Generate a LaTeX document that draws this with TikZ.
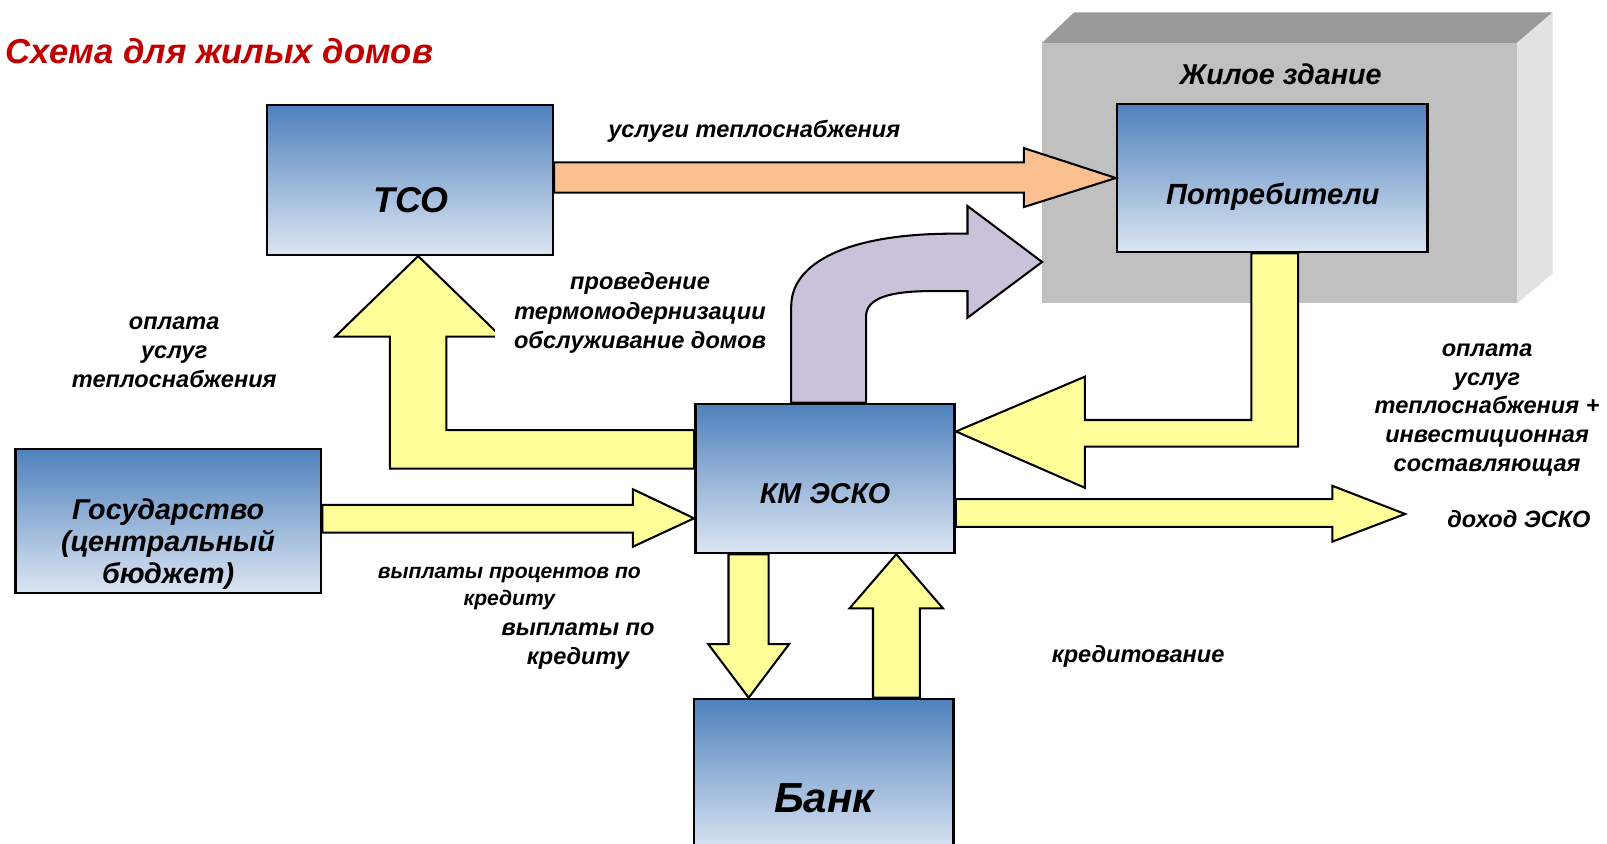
\documentclass[tikz,border=0pt]{standalone}
\usepackage{fontspec}
\setmainfont{Liberation Sans}

\definecolor{boxtop}{HTML}{4F81BD}
\definecolor{boxbottom}{HTML}{DCE6F2}
\definecolor{arrowyellow}{HTML}{FFFF99}
\definecolor{arroworange}{HTML}{FAC090}
\definecolor{arrowlilac}{HTML}{CCC1DA}
\definecolor{titlered}{HTML}{C00000}
\definecolor{housefront}{HTML}{C0C0C0}
\definecolor{housetop}{HTML}{9A9A9A}
\definecolor{houseside}{HTML}{E2E2E2}

\tikzset{
    box/.style={draw=black, line width=2.5pt, top color=boxtop, bottom color=boxbottom, inner sep=0pt},
    boxtext/.style={font=\bfseries\itshape\fontsize{#1}{#1}\selectfont, inner sep=0pt, align=center},
    lbl/.style 2 args={font=\bfseries\itshape\fontsize{#1}{#2}\selectfont, inner sep=0pt, align=center},
    yarrow/.style={fill=arrowyellow, draw=black, line width=2pt, line join=miter},
}

\begin{document}
\begin{tikzpicture}[x=1pt, y=-1pt]
    \clip (0,0) rectangle (1568,823);

    \node[anchor=base west, inner sep=0pt, text=titlered, font=\bfseries\itshape\fontsize{33.8}{40}\selectfont] (title) at (5.6,61.8) {Схема для жилых домов};

    % building
    \node[fill=housefront, minimum width=463pt, minimum height=254pt, inner sep=0pt] (house) at (1248.5,169) {};
    \fill[housetop] (house.north west) -- (1048,12) -- (1515,12) -- (house.north east) -- cycle;
    \fill[houseside] (house.north east) -- (1515,12) -- (1515,267) -- (house.south east) -- cycle;
    \node[lbl={28}{34}] (housename) at (1249.6,72.5) {Жилое здание};

    % boxes
    \node[box, minimum width=279pt, minimum height=146pt] (tso) at (400,175.6) {};
    \node[boxtext=35] (tsoname) at (401,195) {ТСО};
    \node[box, minimum width=303pt, minimum height=144.5pt] (pot) at (1241.5,173.7) {};
    \node[boxtext=28.5] (potname) at (1242,192) {Потребители};
    \node[box, minimum width=253pt, minimum height=145.5pt] (km) at (805,466.8) {};
    \node[boxtext=28] (kmname) at (805,482) {КМ ЭСКО};
    \node[box, minimum width=298pt, minimum height=140.6pt] (gos) at (164.3,508.3) {};
    \node[boxtext=28, font=\bfseries\itshape\fontsize{28}{31.5}\selectfont] (gosname) at (164,531) {Государство\\(центральный\\бюджет)};
    \node[box, minimum width=253pt, minimum height=150pt] (bank) at (803.7,757) {};
    \node[boxtext=41] (bankname) at (804,779) {Банк};

    % arrows
    \filldraw[fill=arroworange, draw=black, line width=2pt, line join=miter] (tso.east |- 0,158.5) -- (999,158.5) -- (999,144.5) -- (pot.west) -- (999,202) -- (999,188) -- (tso.east |- 0,188) -- cycle;

    \filldraw[fill=arrowlilac, draw=black, line width=2pt, line join=miter] (km.north -| 772,0) -- (772,299) .. controls (772,255) and (830,228) .. (930,228) -- (944,228) -- (944,201) -- (house.west |- 0,255.6) -- (944,310) -- (944,284) -- (910,284) .. controls (870,284) and (845,290) .. (845,309) -- (km.north -| 845,0) -- cycle;

    \filldraw[yarrow] (km.west |- 0,419.6) -- (435.6,419.6) -- (435.6,328.5) -- (489,328.5) -- (408,0 |- tso.south) -- (327,328.5) -- (380.5,328.5) -- (380.5,457.3) -- (km.west |- 0,457.3) -- cycle;

    \filldraw[yarrow] (pot.south -| 1221,0) -- (1221,409.8) -- (1058.6,409.8) -- (1058.6,367.5) -- (km.east |- 0,421) -- (1058.6,476) -- (1058.6,435.8) -- (1266.6,435.8) -- (pot.south -| 1266.6,0) -- cycle;

    \filldraw[yarrow] (gos.east |- 0,492.7) -- (617.6,492.7) -- (617.6,477.4) -- (km.west |- 0,505.7) -- (617.6,533.4) -- (617.6,519.7) -- (gos.east |- 0,519.7) -- cycle;

    \coordinate (incometip) at (1371,501.5);
    \filldraw[yarrow] (km.east |- 0,487) -- (1300,487) -- (1300,474) -- (incometip) -- (1300,528.5) -- (1300,514) -- (km.east |- 0,514) -- cycle;

    \filldraw[yarrow] (km.south -| 710.8,0) -- (710.8,628.4) -- (691,628.4) -- (bank.north -| 730.5,0) -- (770,628.4) -- (750,628.4) -- (km.south -| 750,0) -- cycle;

    \filldraw[yarrow] (bank.north -| 851.8,0) -- (851.8,593.5) -- (829,593.5) -- (km.south -| 874.5,0) -- (920,593.5) -- (897.5,593.5) -- (bank.north -| 897.5,0) -- cycle;

    % labels
    \node[lbl={23}{28.5}] (services) at (736,128) {услуги теплоснабжения};
    \node[lbl={23}{28.5}, fill=white, inner xsep=19pt, inner ysep=2pt] (works) at (624.5,305.5) {проведение\\термомодернизации\\обслуживание домов};
    \node[lbl={23}{28.5}] (payleft) at (170,343.5) {оплата\\услуг\\теплоснабжения};
    \node[lbl={23}{28.2}] (payright) at (1451,400) {оплата\\услуг\\теплоснабжения +\\инвестиционная\\составляющая};
    \node[lbl={23}{28.5}] (income) at (1482,506) {доход ЭСКО};
    \node[lbl={20.6}{26}] (interest) at (497,574.5) {выплаты процентов по\\кредиту};
    \node[lbl={23}{28}] (repay) at (564,630.5) {выплаты по\\кредиту};
    \node[lbl={23}{28.5}] (credit) at (1110.5,640) {кредитование};
\end{tikzpicture}
\end{document}
